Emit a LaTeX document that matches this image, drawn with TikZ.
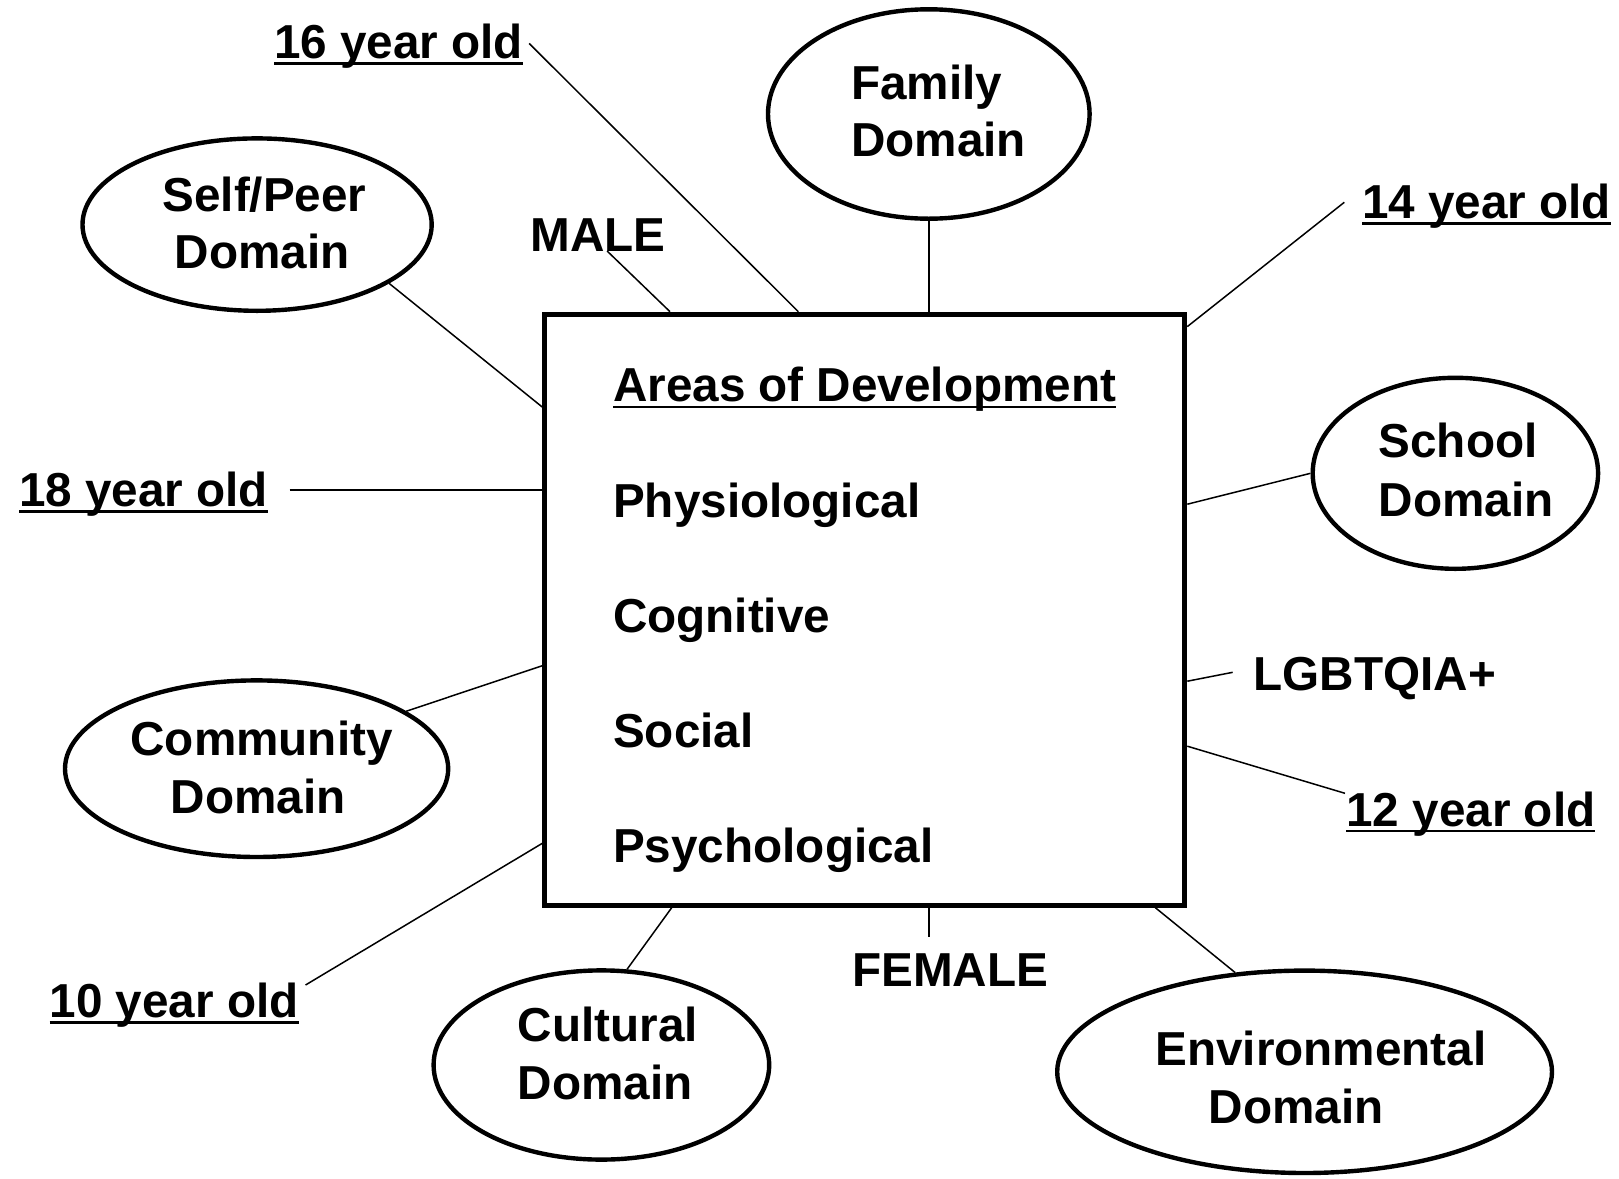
\documentclass[tikz,border=0pt]{standalone}
\usepackage{fontspec}
\setmainfont{Liberation Sans}
\usetikzlibrary{shapes.geometric,calc}

% underline that runs through the descenders, close under the baseline
\newcommand\ulbar[1]{\setbox0=\hbox{#1}\rlap{\rule[-3.1pt]{\wd0}{1.2pt}}\box0}

\begin{document}
\begin{tikzpicture}[x=0.5pt,y=-0.5pt,
  every node/.style={font=\fontsize{23.83pt}{29pt}\selectfont\bfseries},
  lbl/.style={inner sep=0pt, anchor=base west},
  domainoval/.style={ellipse, draw, line width=2.2pt, inner sep=0pt},
  link/.style={line width=0.75pt},
  ]
\useasboundingbox (0,0) rectangle (1619,1179);

% central box
\node[draw, line width=2.5pt, inner sep=0pt,
      minimum width=320pt, minimum height=295.5pt] (box) at (864.8,609.7) {};
\node[lbl] (areas)  at (612.7,401.7) {\ulbar{Areas of Development}};
\node[lbl] (physio) at (612.7,517.5) {Physiological};
\node[lbl] (cogn)   at (612.7,632.5) {Cognitive};
\node[lbl] (social) at (612.7,747.5) {Social};
\node[lbl] (psych)  at (612.7,862.7) {Psychological};

% domains
\node[domainoval, minimum width=160.8pt, minimum height=104.7pt] (fam)    at (928.8,114)    {};
\node[domainoval, minimum width=174.6pt, minimum height=86.2pt]  (self)   at (257.1,224.6)  {};
\node[domainoval, minimum width=142.7pt, minimum height=95.5pt]  (school) at (1455.4,473.3) {};
\node[domainoval, minimum width=191.6pt, minimum height=88.3pt]  (comm)   at (256.6,768.7)  {};
\node[domainoval, minimum width=167.8pt, minimum height=94.6pt]  (cult)   at (601.4,1065)   {};
\node[domainoval, minimum width=247.4pt, minimum height=101.2pt] (env)    at (1304.6,1071.8){};

\node[lbl] (famA)    at (850.7,99)     {Family};
\node[lbl] (famB)    at (850.7,156)    {Domain};
\node[lbl] (selfA)   at (162.1,211)    {Self/Peer};
\node[lbl] (selfB)   at (174.5,268.9)  {Domain};
\node[lbl] (schoolA) at (1378.3,457.3) {School};
\node[lbl] (schoolB) at (1378.3,516)   {Domain};
\node[lbl] (commA)   at (130.1,755.2)  {Community};
\node[lbl] (commB)   at (170.4,813.1)  {Domain};
\node[lbl] (cultA)   at (517.3,1041.5) {Cultural};
\node[lbl] (cultB)   at (517.3,1099.5) {Domain};
\node[lbl] (envA)    at (1155,1065)    {Environmental};
\node[lbl] (envB)    at (1208.3,1123.3){Domain};

% ages and genders
\node[lbl] (t16)    at (273.6,58.5)   {\ulbar{16 year old}};
\node[lbl] (male)   at (530,251)      {MALE};
\node[lbl] (t14)    at (1361.7,218.3) {\ulbar{14 year old}};
\node[lbl] (t18)    at (18.6,506.5)   {\ulbar{18 year old}};
\node[lbl] (lgbt)   at (1253.3,690)   {LGBTQIA+};
\node[lbl] (t12)    at (1346,826)     {\ulbar{12 year old}};
\node[lbl] (t10)    at (49.3,1017.3)  {\ulbar{10 year old}};
\node[lbl] (female) at (851.7,986)    {FEMALE};

% connectors
\draw[link] ([xshift=2.85pt,yshift=7.55pt]t16.base east) -- ($(box.north west)!0.397!(box.north east)$);
\draw[link] ([xshift=38.55pt]male.base west) -- ($(box.north west)!0.198!(box.north east)$);
\draw[link] (fam.south) -- (fam.south |- box.north);
\draw[link] ([xshift=-8.7pt,yshift=8pt]t14.base west) -- ($(box.north east)!0.025!(box.south east)$);
\draw[link] (self.-24.67) -- ($(box.north west)!0.160!(box.south west)$);
\draw[link] ([xshift=10.6pt,yshift=8.25pt]t18.base east) coordinate (e18) -- (e18 -| box.west);
\draw[link] (school.180) -- ($(box.north east)!0.323!(box.south east)$);
\draw[link] ([xshift=-10.3pt,yshift=8.85pt]lgbt.base west) -- ($(box.north east)!0.620!(box.south east)$);
\draw[link] ([xshift=-0.5pt,yshift=16.35pt]t12.base west) -- ($(box.north east)!0.729!(box.south east)$);
\draw[link] (comm.21.45) -- ($(box.north west)!0.594!(box.south west)$);
\draw[link] ([xshift=3.2pt,yshift=16.15pt]t10.base east) -- ($(box.north west)!0.892!(box.south west)$);
\draw[link] (cult.75.9) -- ($(box.south west)!0.2006!(box.south east)$);
\draw[link] (fam.south |- box.south) -- ([yshift=24.35pt]female.base west -| fam.south);
\draw[link] ($(box.south west)!0.9505!(box.south east)$) -- (env.125.06);
\end{tikzpicture}
\end{document}
